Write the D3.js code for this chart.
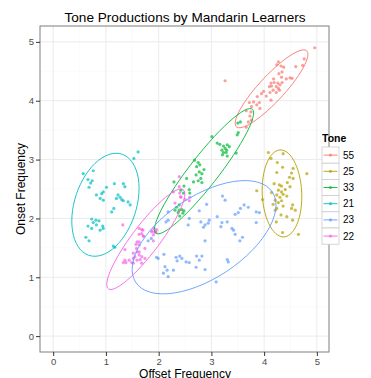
<!DOCTYPE html>
<html><head><meta charset="utf-8">
<script src="https://cdn.jsdelivr.net/npm/d3@7"></script>
<style>body{margin:0;background:#fff}svg{font-family:"Liberation Sans",Arial,sans-serif}</style>
</head><body>
<script>
const title = "Tone Productions by Mandarin Learners";
const xLabel = "Offset Frequency", yLabel = "Onset Frequency";
const tones = ["55","25","33","21","23","22"];
const toneColors = ["#F8766D","#B79F00","#00BA38","#00BFC4","#619CFF","#F564E3"];
const xTicks = [0,1,2,3,4,5], yTicks = [0,1,2,3,4,5];

const tone55 = [[4.96,4.90],[3.26,4.34],[4.76,4.71],[4.73,4.60],[4.60,4.58],[4.27,4.66],[4.24,4.61],[4.32,4.59],[4.37,4.57],[4.34,4.49],[4.28,4.46],[4.33,4.40],[4.49,4.39],[4.42,4.37],[4.53,4.38],[4.18,4.37],[4.13,4.30],[4.19,4.31],[4.26,4.30],[4.34,4.31],[4.30,4.27],[4.14,4.25],[4.23,4.24],[4.10,4.24],[4.27,4.21],[4.17,4.18],[4.29,4.18],[4.23,4.14],[4.11,4.14],[3.99,4.16],[3.95,4.12],[4.04,4.08],[3.87,4.07],[4.13,4.01],[3.80,3.98],[3.72,3.97],[3.91,3.97],[3.86,3.93],[3.76,3.90],[3.92,3.87],[3.66,3.83],[3.75,3.81],[3.73,3.74],[3.76,3.67],[3.70,3.64],[3.66,3.55]];
const tone25 = [[4.08,3.12],[4.36,3.10],[4.13,3.02],[4.25,2.95],[4.35,2.87],[4.55,2.85],[4.81,2.76],[4.24,2.78],[4.52,2.77],[4.48,2.70],[4.55,2.68],[4.44,2.61],[4.19,2.59],[4.29,2.57],[4.33,2.55],[4.49,2.54],[4.40,2.49],[4.27,2.48],[3.86,2.47],[4.14,2.44],[4.33,2.45],[4.36,2.41],[4.24,2.40],[4.43,2.38],[4.30,2.36],[3.97,2.32],[4.21,2.31],[4.33,2.30],[4.27,2.27],[4.17,2.24],[4.54,2.23],[4.36,2.21],[4.24,2.17],[4.59,2.14],[4.52,2.17],[4.32,2.06],[4.43,2.03],[4.54,1.97],[4.23,1.94],[4.35,1.76],[4.65,1.73],[4.21,2.14]];
const tone33 = [[3.51,3.46],[3.49,3.42],[3.01,3.39],[3.11,3.28],[3.16,3.26],[3.23,3.23],[3.30,3.25],[3.34,3.22],[3.26,3.19],[3.20,3.16],[3.29,3.16],[3.23,3.12],[3.47,3.11],[3.28,3.12],[3.21,3.08],[3.30,3.06],[2.68,2.99],[2.75,2.95],[2.78,2.91],[2.72,2.88],[2.86,2.83],[2.77,2.79],[2.82,2.76],[2.71,2.74],[2.80,2.68],[2.75,2.64],[2.82,2.61],[2.66,2.62],[2.29,2.62],[2.53,2.68],[2.48,2.55],[2.58,2.49],[2.42,2.48],[2.47,2.43],[2.59,2.43],[2.39,2.23],[2.34,2.19],[2.39,2.14],[2.44,2.15],[2.48,2.13],[2.31,2.14],[2.46,2.09],[2.37,2.10],[2.40,2.04],[3.55,3.64],[3.50,3.62]];
const tone21 = [[1.61,3.13],[1.53,3.02],[0.57,2.76],[0.76,2.81],[0.66,2.66],[0.74,2.64],[0.71,2.60],[0.68,2.53],[1.16,2.59],[1.33,2.59],[1.36,2.54],[1.01,2.53],[0.95,2.45],[0.92,2.42],[0.82,2.40],[1.23,2.40],[1.27,2.36],[1.20,2.34],[1.30,2.32],[0.89,2.34],[0.95,2.31],[1.33,2.30],[1.42,2.28],[1.46,2.23],[1.15,2.17],[1.11,2.11],[0.73,1.99],[0.81,1.97],[0.87,1.96],[0.76,1.93],[0.66,1.87],[0.82,1.89],[0.94,1.87],[0.73,1.83],[0.89,1.80],[0.95,1.83],[0.62,1.68],[0.68,1.62],[1.14,1.53],[1.17,1.51]];
const tone23 = [[3.21,2.38],[3.26,2.31],[2.91,2.24],[3.62,2.23],[3.70,2.19],[3.55,2.17],[2.77,2.13],[3.51,2.10],[3.45,2.07],[3.85,2.11],[3.91,2.10],[3.11,2.03],[2.58,2.00],[2.96,1.97],[2.80,1.94],[3.20,1.93],[3.30,1.94],[2.94,1.92],[3.85,1.93],[2.56,1.89],[2.88,1.89],[2.85,1.85],[3.18,1.86],[3.39,1.83],[3.42,1.80],[3.45,1.73],[3.59,1.68],[2.88,1.62],[3.54,1.62],[1.96,1.34],[2.10,1.39],[2.33,1.34],[2.40,1.36],[2.44,1.32],[2.35,1.28],[2.52,1.26],[2.58,1.25],[2.72,1.36],[2.82,1.36],[2.77,1.29],[3.30,1.30],[3.32,1.26],[2.12,1.18],[2.16,1.12],[2.28,1.12],[2.71,1.17],[2.88,1.13],[2.18,1.01],[3.09,0.92],[1.99,1.32],[2.18,2.11],[2.14,1.94],[2.18,1.97],[1.80,1.62],[1.86,1.66],[2.09,1.07]];
const tone22 = [[1.32,1.89],[1.63,1.83],[1.70,1.80],[1.91,1.83],[1.63,1.73],[1.71,1.70],[1.95,1.77],[1.90,1.72],[1.59,1.60],[1.57,1.56],[1.63,1.55],[1.74,1.49],[1.36,1.47],[1.59,1.43],[1.52,1.41],[1.63,1.38],[1.55,1.35],[1.44,1.29],[1.38,1.25],[1.49,1.25],[1.65,1.30],[1.68,1.24],[1.68,1.81],[1.87,1.77],[1.96,1.81],[1.93,1.77],[1.63,1.60],[1.58,1.49],[1.63,1.43],[1.52,1.32],[1.36,1.29],[1.33,1.25],[1.59,1.29],[1.52,1.24],[2.39,2.71],[2.28,2.45],[2.59,2.36],[2.50,2.32],[2.42,2.36],[2.58,2.30],[2.39,2.54],[2.40,2.43],[2.42,2.37],[2.31,2.26],[1.68,1.74],[1.71,1.70],[1.90,1.62],[1.87,1.79],[1.68,1.35],[1.74,1.32],[1.93,1.77]];
const seriesData = [tone55, tone25, tone33, tone21, tone23, tone22];

const W = 371, H = 378;
const svg = d3.select("body").append("svg").attr("width", W).attr("height", H);
const pL = 40, pR = 329, pT = 26, pB = 352;
const x = d3.scaleLinear().domain([-0.25, 5.23]).range([pL, pR]);
const y = d3.scaleLinear().domain([-0.27, 5.27]).range([pB, pT]);

// panel
svg.append("rect").attr("x", pL).attr("y", pT).attr("width", pR - pL).attr("height", pB - pT).attr("fill", "#fff");
const minor = d3.range(-0.5, 5.6, 0.5).filter(v => Math.abs(v - Math.round(v)) > 0.1);
const g = svg.append("g");
minor.forEach(v => {
  if (x(v) > pL && x(v) < pR) g.append("line").attr("x1", x(v)).attr("x2", x(v)).attr("y1", pT).attr("y2", pB).attr("stroke", "#F7F7F7").attr("stroke-width", 0.6);
  if (y(v) > pT && y(v) < pB) g.append("line").attr("y1", y(v)).attr("y2", y(v)).attr("x1", pL).attr("x2", pR).attr("stroke", "#F7F7F7").attr("stroke-width", 0.6);
});
xTicks.forEach(v => g.append("line").attr("x1", x(v)).attr("x2", x(v)).attr("y1", pT).attr("y2", pB).attr("stroke", "#EBEBEB").attr("stroke-width", 1));
yTicks.forEach(v => g.append("line").attr("y1", y(v)).attr("y2", y(v)).attr("x1", pL).attr("x2", pR).attr("stroke", "#EBEBEB").attr("stroke-width", 1));

// robust multivariate-t scatter, following MASS::cov.trob (used by stat_ellipse type "t")
function covTrob(pts) {
  const n = pts.length, nu = 5, p = 2;
  let w = pts.map(() => 1);
  let mx = d3.mean(pts, d => d[0]), my = d3.mean(pts, d => d[1]);
  let X;
  for (let it = 0; it < 200; it++) {
    X = pts.map(d => [d[0] - mx, d[1] - my]);
    const sw = d3.sum(w);
    const cxx = d3.sum(X, (d, i) => w[i] * d[0] * d[0]) / sw;
    const cyy = d3.sum(X, (d, i) => w[i] * d[1] * d[1]) / sw;
    const cxy = d3.sum(X, (d, i) => w[i] * d[0] * d[1]) / sw;
    const det = cxx * cyy - cxy * cxy;
    const w0 = w;
    w = X.map(d => (nu + p) / (nu + (cyy * d[0] * d[0] - 2 * cxy * d[0] * d[1] + cxx * d[1] * d[1]) / det));
    const sw2 = d3.sum(w);
    mx = d3.sum(pts, (d, i) => w[i] * d[0]) / sw2;
    my = d3.sum(pts, (d, i) => w[i] * d[1]) / sw2;
    if (d3.max(w, (v, i) => Math.abs(v - w0[i])) < 1e-6) break;
  }
  const sxx = d3.sum(X, (d, i) => w[i] * d[0] * d[0]) / n;
  const syy = d3.sum(X, (d, i) => w[i] * d[1] * d[1]) / n;
  const sxy = d3.sum(X, (d, i) => w[i] * d[0] * d[1]) / n;
  return {mx, my, sxx, sxy, syy};
}
function ellipsePath(pts) {
  const c = covTrob(pts);
  const r = Math.sqrt(2 * 3.19);
  const a = Math.sqrt(c.sxx), b = c.sxy / a, d = Math.sqrt(c.syy - b * b);
  const out = [];
  for (let i = 0; i <= 60; i++) {
    const t = i / 60 * 2 * Math.PI;
    const u = Math.cos(t), v = Math.sin(t);
    out.push([c.mx + r * (u * a), c.my + r * (u * b + v * d)]);
  }
  return out;
}
const line = d3.line().x(d => x(d[0])).y(d => y(d[1]));

const plot = svg.append("g");
seriesData.forEach((pts, i) => {
  plot.selectAll(null).data(pts).enter().append("circle")
    .attr("cx", d => x(d[0])).attr("cy", d => y(d[1])).attr("r", 1.6)
    .attr("fill", toneColors[i]).attr("opacity", 0.7);
});
seriesData.forEach((pts, i) => {
  plot.append("path").attr("d", line(ellipsePath(pts))).attr("fill", "none")
    .attr("stroke", toneColors[i]).attr("stroke-width", 0.9);
});

svg.append("rect").attr("x", pL).attr("y", pT).attr("width", pR - pL).attr("height", pB - pT)
  .attr("fill", "none").attr("stroke", "#7F7F7F").attr("stroke-width", 1);

// axes
const xa = svg.append("g").attr("transform", `translate(0,${pB})`)
  .call(d3.axisBottom(x).tickValues(xTicks).tickSize(4).tickPadding(2).tickFormat(d3.format("d")));
const ya = svg.append("g").attr("transform", `translate(${pL},0)`)
  .call(d3.axisLeft(y).tickValues(yTicks).tickSize(4).tickPadding(2).tickFormat(d3.format("d")));
[xa, ya].forEach(a => {
  a.select(".domain").remove();
  a.selectAll(".tick line").attr("stroke", "#333");
  a.selectAll(".tick text").attr("fill", "#4D4D4D").style("font-size", "9.5px").style("font-family", "Liberation Sans, Arial, sans-serif");
});

svg.append("text").attr("x", 185).attr("y", 22).attr("text-anchor", "middle")
  .style("font-size", "13.6px").attr("fill", "#000").text(title);
svg.append("text").attr("x", 185).attr("y", 377.5).attr("text-anchor", "middle")
  .style("font-size", "12px").attr("fill", "#000").text(xLabel);
svg.append("text").attr("transform", `translate(25,189) rotate(-90)`).attr("text-anchor", "middle")
  .style("font-size", "12px").attr("fill", "#000").text(yLabel);

// legend
const lg = svg.append("g").attr("transform", "translate(322,137)");
lg.append("text").attr("x", 0).attr("y", 5).style("font-size", "10.5px").style("font-weight", "bold").text("Tone");
tones.forEach((t, i) => {
  const gy = 10 + i * 16.2;
  lg.append("rect").attr("x", 0).attr("y", gy).attr("width", 17).attr("height", 16.2)
    .attr("fill", "#fff").attr("stroke", "#CCCCCC").attr("stroke-width", 0.8);
  lg.append("line").attr("x1", 1.5).attr("x2", 15.5).attr("y1", gy + 8.1).attr("y2", gy + 8.1)
    .attr("stroke", toneColors[i]).attr("stroke-width", 0.9);
  lg.append("circle").attr("cx", 8.5).attr("cy", gy + 8.1).attr("r", 1.6).attr("fill", toneColors[i]).attr("opacity", 0.7);
  lg.append("text").attr("x", 21).attr("y", gy + 11.5).style("font-size", "10px").attr("fill", "#000").text(t);
});
</script>
</body></html>
